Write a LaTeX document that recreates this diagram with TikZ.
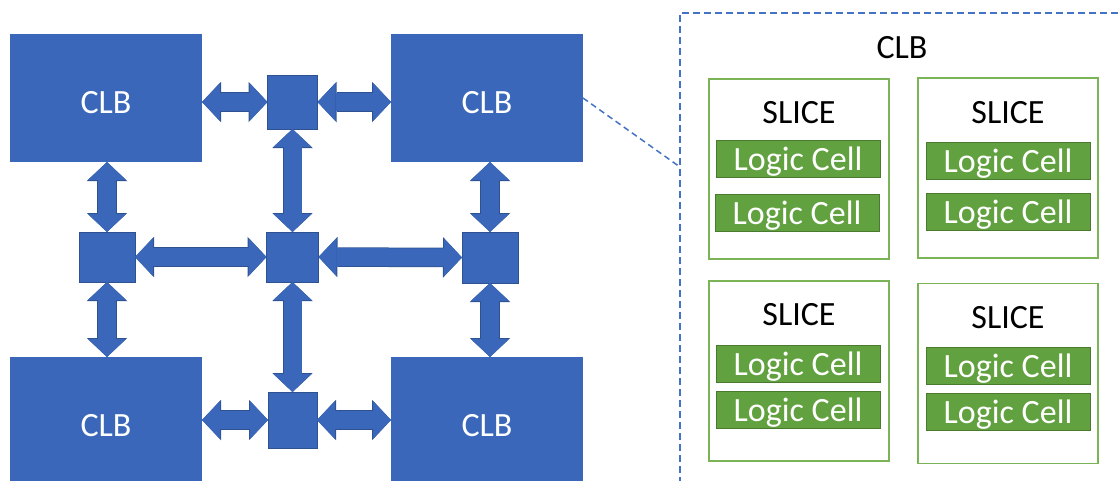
\documentclass[tikz,border=0pt]{standalone}
\usepackage{fontspec}
\setmainfont{Carlito}
\usetikzlibrary{arrows.meta}
\definecolor{clbblue}{HTML}{3A67BA}
\definecolor{swedge}{HTML}{2E5290}
\definecolor{linkblue}{HTML}{4472C4}
\definecolor{slicegreen}{HTML}{7AB457}
\definecolor{cellgreen}{HTML}{62A13F}
\definecolor{celledge}{HTML}{4A7A2E}

\begin{document}
\begin{tikzpicture}[x=1pt,y=1pt]
			\tikzstyle{every node}+=[inner sep=0pt, outer sep=0pt, font=\fontsize{34}{40}\selectfont]
			\tikzstyle{clb}=[fill=clbblue, text=white, minimum width=192pt, minimum height=128pt, text height=30pt, text depth=0pt]
			\tikzstyle{switch}=[fill=clbblue, draw=swedge, line width=1pt]
			\tikzstyle{link}=[draw=clbblue, line width=18pt, {Triangle[length=18pt,width=38pt,line width'=0pt]}-{Triangle[length=18pt,width=38pt,line width'=0pt]}, preaction={draw=swedge, line width=19.5pt, {Triangle[length=19pt,width=40.5pt,line width'=0pt]}-{Triangle[length=19pt,width=40.5pt,line width'=0pt]}}]
			\tikzstyle{zoombox}=[draw=linkblue, line width=1.5pt, dash pattern=on 7pt off 4pt, minimum width=450pt, minimum height=484pt]
			\tikzstyle{zoomline}=[draw=linkblue, line width=1.5pt, dash pattern=on 6pt off 4pt]
			\tikzstyle{slice}=[draw=slicegreen, line width=1.5pt, minimum width=180pt, minimum height=180pt]
			\tikzstyle{cell}=[fill=cellgreen, draw=celledge, line width=1pt, text=white, minimum width=164pt, minimum height=37pt, text depth=0pt]
			\useasboundingbox (0,0) rectangle (1119,-480);
			% fabric: four CLBs and five switch boxes
			\node [clb] (tl) at (106,-98) {CLB};
			\node [clb] (tr) at (487,-98) {CLB};
			\node [clb] (bl) at (106,-421) {CLB};
			\node [clb] (br) at (487,-421) {CLB};
			\node [switch, minimum width=50pt, minimum height=54pt] (stop) at (292.5,-102) {};
			\node [switch, minimum width=56pt, minimum height=50pt] (sleft) at (107,-257) {};
			\node [switch, minimum width=52pt, minimum height=50pt] (smid) at (292.5,-257) {};
			\node [switch, minimum width=56pt, minimum height=51pt] (sright) at (490,-257.5) {};
			\node [switch, minimum width=49pt, minimum height=56pt] (sbot) at (292.5,-420) {};
			\draw [link] (tl.east |- stop) -- (stop.west);
			\draw [link] (stop.east) -- (tr.west |- stop);
			\draw [link] (sleft |- tl.south) -- (sleft.north);
			\draw [link] (stop.south) -- (smid.north);
			\draw [link] (sright |- tr.south) -- (sright.north);
			\draw [link] (sleft.east) -- (smid.west);
			\draw [link] (smid.east) -- (sright.west);
			\draw [link] (sleft.south) -- (sleft |- bl.north);
			\draw [link] (smid.south) -- (sbot.north);
			\draw [link] (sright.south) -- (sright |- br.north);
			\draw [link] (bl.east |- sbot) -- (sbot.west);
			\draw [link] (sbot.east) -- (br.west |- sbot);
			% one CLB opened up
			\node [zoombox] (zoom) at (905,-255) {};
			\node (ztitle) at (902,-48) {CLB};
			\coordinate (zoomin) at (zoom.west |- 0,-167);
			\draw [zoomline] (tr.east) -- (zoomin);
			\node [slice] (slicea) at (799,-169) {};
			\node (slicealabel) at (799,-113) {SLICE};
			\node [cell] (cella1) at (798,-159) {Logic Cell};
			\node [cell] (cella2) at (797,-213) {Logic Cell};
			\node [slice] (sliceb) at (1008,-168) {};
			\node (sliceblabel) at (1008,-113) {SLICE};
			\node [cell] (cellb1) at (1008,-161) {Logic Cell};
			\node [cell] (cellb2) at (1008,-212) {Logic Cell};
			\node [slice] (slicec) at (799,-371) {};
			\node (sliceclabel) at (799,-315) {SLICE};
			\node [cell] (cellc1) at (798,-363.5) {Logic Cell};
			\node [cell] (cellc2) at (798,-410) {Logic Cell};
			\node [slice] (sliced) at (1008,-373.5) {};
			\node (slicedlabel) at (1008,-318) {SLICE};
			\node [cell] (celld1) at (1008,-365.5) {Logic Cell};
			\node [cell] (celld2) at (1008,-411.5) {Logic Cell};
			\end{tikzpicture}
\end{document}
